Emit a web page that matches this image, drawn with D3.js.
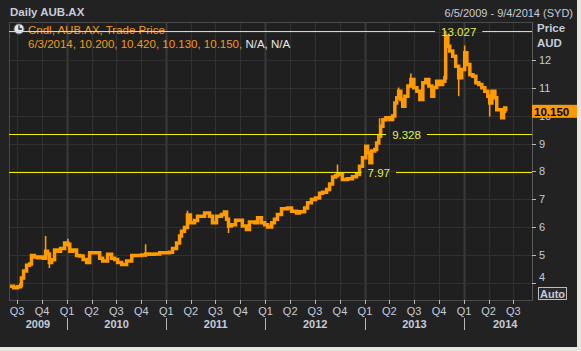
<!DOCTYPE html>
<html lang="en">
<head>
<meta charset="UTF-8">
<title>Daily AUB.AX</title>
<script src="https://d3js.org/d3.v7.min.js"></script>
<style>
  body { margin: 0; background: #e6e6de; }
  svg { display: block; font-family: "Liberation Sans", Arial, sans-serif; }
  .lbl { fill: #c4ccda; font-size: 11px; }
  .bold { font-weight: bold; }
</style>
</head>
<body>
<script>
// price series (approx. closes)
var dates = [
  "2009-06-05","2009-06-18","2009-07-03","2009-07-14","2009-07-17","2009-07-25","2009-08-05","2009-08-16","2009-08-23","2009-09-03",
  "2009-09-14","2009-09-25","2009-10-06","2009-10-14","2009-10-21","2009-10-28","2009-11-05","2009-11-16","2009-11-27","2009-12-08",
  "2009-12-23","2010-01-04","2010-01-11","2010-01-22","2010-02-05","2010-02-16","2010-03-01","2010-03-14","2010-03-25","2010-04-12",
  "2010-05-01","2010-05-12","2010-05-30","2010-06-14","2010-06-25","2010-07-06","2010-07-21","2010-08-08","2010-08-27","2010-09-14",
  "2010-10-02","2010-10-17","2010-11-01","2010-11-19","2010-12-08","2010-12-26","2011-01-13","2011-01-24","2011-02-08","2011-02-19",
  "2011-02-26","2011-03-09","2011-03-20","2011-03-31","2011-04-15","2011-04-26","2011-05-03","2011-05-22","2011-06-09","2011-06-20",
  "2011-07-05","2011-07-23","2011-08-03","2011-08-11","2011-08-18","2011-08-29","2011-09-13","2011-09-27","2011-10-08","2011-10-23",
  "2011-11-03","2011-11-22","2011-12-03","2011-12-17","2011-12-29","2012-01-09","2012-01-24","2012-02-03","2012-02-14","2012-02-29",
  "2012-03-11","2012-03-22","2012-04-06","2012-04-24","2012-05-05","2012-05-24","2012-06-04","2012-06-18","2012-07-03","2012-07-18",
  "2012-07-29","2012-08-13","2012-08-24","2012-09-04","2012-09-15","2012-09-22","2012-10-10","2012-10-29","2012-11-16","2012-12-01",
  "2012-12-12","2012-12-23","2013-01-04","2013-01-11","2013-01-19","2013-01-26","2013-02-06","2013-02-13","2013-02-21","2013-02-28",
  "2013-03-08","2013-03-19","2013-04-02","2013-04-13","2013-04-21","2013-04-28","2013-05-05","2013-05-13","2013-05-20","2013-05-28",
  "2013-06-08","2013-06-19","2013-06-30","2013-07-11","2013-07-22","2013-08-02","2013-08-13","2013-08-24","2013-09-04","2013-09-11",
  "2013-09-22","2013-10-03","2013-10-14","2013-10-22","2013-10-25","2013-11-02","2013-11-09","2013-11-20","2013-12-01","2013-12-12",
  "2013-12-23","2014-01-03","2014-01-11","2014-01-22","2014-02-02","2014-02-13","2014-02-24","2014-03-07","2014-03-18","2014-03-29",
  "2014-04-05","2014-04-13","2014-04-24","2014-05-01","2014-05-12","2014-05-19","2014-05-26","2014-05-30","2014-06-03"
];
var close = [
  3.90,3.85,3.88,3.95,4.20,4.45,4.65,4.70,5.00,4.95,
  4.92,4.95,4.90,5.15,5.05,4.75,4.85,5.20,5.15,5.25,
  5.45,5.40,5.15,5.20,5.00,4.98,4.86,4.75,5.10,5.10,
  4.90,4.80,5.04,4.90,4.86,4.75,4.68,4.80,5.00,5.00,
  5.02,5.05,5.04,5.05,5.10,5.10,5.12,5.25,5.45,5.70,
  5.87,6.00,6.45,6.17,6.25,6.40,6.40,6.52,6.40,6.17,
  6.40,6.46,6.55,6.29,6.05,6.10,6.26,6.26,6.05,5.93,
  6.20,6.17,6.35,6.17,6.10,6.02,6.17,6.29,6.46,6.67,
  6.67,6.70,6.58,6.52,6.56,6.70,6.88,7.00,7.05,7.22,
  7.26,7.36,7.55,7.80,7.85,7.89,7.71,7.74,7.81,7.89,
  8.19,8.49,8.90,8.67,8.31,8.73,8.79,9.02,9.26,9.62,
  9.85,9.92,9.86,9.98,10.45,10.63,10.87,10.57,10.33,10.69,
  11.05,11.29,10.99,10.87,10.57,11.17,11.29,11.05,10.69,11.00,
  11.22,11.11,11.22,11.35,12.83,12.47,12.30,12.12,11.76,11.35,
  11.64,12.24,11.82,11.46,11.40,11.17,11.11,10.99,10.87,10.69,
  10.45,10.87,10.63,10.21,10.21,9.92,10.15,10.27,10.15
];

// intraday spikes
var wickDates = ["2009-10-14","2009-10-28","2010-01-04","2010-10-17","2011-03-20","2011-08-18","2012-09-22","2013-02-24","2013-05-05","2013-06-19","2013-10-25","2013-12-12","2014-01-03","2014-04-05"];
var wickHigh  = [5.70, 4.90, 5.60, 5.40, 6.60, 6.10, 8.25, 9.90, 11.00, 11.50, 13.027, 11.60, 12.50, 10.60];
var wickLow   = [4.90, 4.55, 5.30, 4.95, 6.20, 5.80, 7.80, 9.26, 10.60, 11.00, 11.30, 10.69, 11.80, 9.96];

// horizontal level lines
var levelValues = [13.027, 9.328, 7.97];
var levelLabels = ["13.027", "9.328", "7.97"];
var levelLabelDates = ["2013-12-12", "2013-06-03", "2013-02-21"];

var yearLabels = ["2009", "2010", "2011", "2012", "2013", "2014"];
var yearLabelDates = ["2009-09-16", "2010-07-02", "2011-07-02", "2012-07-02", "2013-07-02", "2014-06-01"];

var lastPrice = 10.150;

var W = 577, H = 347;
var pL = 9, pR = 532, pT = 22, pB = 300;
var parse = d3.timeParse("%Y-%m-%d");

var svg = d3.select("body").append("svg").attr("width", W).attr("height", H);
svg.append("rect").attr("width", W).attr("height", H).attr("fill", "#222222");
svg.append("rect").attr("x", pL).attr("y", pT).attr("width", pR - pL).attr("height", pB - pT)
    .attr("fill", "#1f1f1f");

var x = d3.scaleTime()
    .domain([parse("2009-06-05"), parse("2014-09-04")])
    .range([10, 531]);
var y = d3.scaleLinear()
    .domain([3.41, 13.34])
    .range([pB, pT]);

// grid
var quarters = x.ticks(d3.timeMonth.every(3));
var years = x.ticks(d3.timeYear.every(1));
svg.append("g").selectAll("line").data(quarters).enter().append("line")
    .attr("x1", function(d) { return Math.round(x(d)) + 0.5; })
    .attr("x2", function(d) { return Math.round(x(d)) + 0.5; })
    .attr("y1", pT).attr("y2", pB)
    .attr("stroke", function(d) { return d.getMonth() === 0 ? "#3a3a3a" : "#313131"; })
    .attr("stroke-width", function(d) { return d.getMonth() === 0 ? 2 : 1; });
var yTicks = y.ticks(10);
svg.append("g").selectAll("line").data(yTicks).enter().append("line")
    .attr("x1", pL).attr("x2", pR)
    .attr("y1", function(d) { return Math.round(y(d)) + 0.5; })
    .attr("y2", function(d) { return Math.round(y(d)) + 0.5; })
    .attr("stroke", "#313131");

// frame
svg.append("path")
    .attr("d", "M" + (pL + 0.5) + "," + pB + "V" + (pT + 0.5) + "H" + (pR + 0.5) + "V" + (pB + 0.5) + "H" + pL)
    .attr("fill", "none").attr("stroke", "#4a4a4a");

// price
var pts = dates.map(function(d, i) { return [parse(d), close[i]]; });
svg.append("g").selectAll("line").data(wickDates).enter().append("line")
    .attr("x1", function(d) { return x(parse(d)); })
    .attr("x2", function(d) { return x(parse(d)); })
    .attr("y1", function(d, i) { return y(wickHigh[i]); })
    .attr("y2", function(d, i) { return y(wickLow[i]); })
    .attr("stroke", "#ff9a00").attr("stroke-width", 1.6);
svg.append("path")
    .datum(pts)
    .attr("fill", "none")
    .attr("stroke", "#ff9a00")
    .attr("stroke-width", 3.5)
    .attr("stroke-linejoin", "miter")
    .attr("d", d3.line()
        .x(function(d) { return x(d[0]); })
        .y(function(d) { return y(d[1]); })
        .curve(d3.curveStepAfter));

// level lines with labels
levelValues.forEach(function(v, i) {
    var cx = x(parse(levelLabelDates[i]));
    var yy = Math.round(y(v)) + 0.5;
    var t = svg.append("text").attr("x", cx).attr("y", yy + 4)
        .attr("text-anchor", "middle").attr("fill", "#e2f048")
        .style("font-size", "11.5px").text(levelLabels[i]);
    var w = t.node().getComputedTextLength() / 2 + 6;
    svg.append("line").attr("x1", pL).attr("x2", cx - w).attr("y1", yy).attr("y2", yy)
        .attr("stroke", "#f2f000").attr("stroke-width", 1.2);
    svg.append("line").attr("x1", cx + w).attr("x2", pR).attr("y1", yy).attr("y2", yy)
        .attr("stroke", "#f2f000").attr("stroke-width", 1.2);
});

// right axis
var yAxis = svg.append("g");
var yLab = yTicks.filter(function(d) { return d <= 12; });
yAxis.append("line").attr("x1", pR + 0.5).attr("x2", pR + 0.5).attr("y1", pT).attr("y2", pB)
    .attr("stroke", "#5a5a5a");
yAxis.selectAll(".tk").data(yLab).enter().append("line")
    .attr("x1", pR).attr("x2", pR + 4)
    .attr("y1", function(d) { return Math.round(y(d)) + 0.5; })
    .attr("y2", function(d) { return Math.round(y(d)) + 0.5; })
    .attr("stroke", "#b8b8b8");
// lowest label is pushed up to clear the Auto button
yAxis.selectAll("text").data(yLab).enter().append("text")
    .attr("class", "lbl").attr("x", 539)
    .attr("y", function(d, i) { return y(d) + (i === 0 ? -2 : 4); })
    .text(function(d) { return d; });
svg.append("text").attr("class", "lbl bold").attr("x", 537).attr("y", 32).style("font-size", "11.5px").text("Price");
svg.append("text").attr("class", "lbl bold").attr("x", 537).attr("y", 47).style("font-size", "11.5px").text("AUD");

// last price tag
var ly = y(lastPrice);
svg.append("rect").attr("x", 532).attr("y", ly - 6.5).attr("width", 45).attr("height", 13).attr("fill", "#ff9900");
svg.append("text").attr("x", 534).attr("y", ly + 4.5).attr("fill", "#000")
    .style("font-size", "11.5px").style("font-weight", "bold").text(d3.format(".3f")(lastPrice));

// Auto button
svg.append("rect").attr("x", 538.5).attr("y", 287.5).attr("width", 28).attr("height", 12)
    .attr("fill", "#2a2a2a").attr("stroke", "#bdbdbd");
svg.append("text").attr("class", "lbl bold").attr("x", 552.5).attr("y", 297.5)
    .attr("text-anchor", "middle").attr("fill", "#d8dce4").text("Auto");

// bottom axis
var xAxis = svg.append("g");
xAxis.selectAll("line").data(quarters).enter().append("line")
    .attr("x1", function(d) { return Math.round(x(d)) + 0.5; })
    .attr("x2", function(d) { return Math.round(x(d)) + 0.5; })
    .attr("y1", pB).attr("y2", pB + 4)
    .attr("stroke", "#b8b8b8");
xAxis.selectAll("text").data(quarters).enter().append("text")
    .attr("class", "lbl").attr("x", function(d) { return x(d); }).attr("y", 315)
    .attr("text-anchor", "middle")
    .text(function(d) { return "Q" + (Math.floor(d.getMonth() / 3) + 1); });
svg.append("g").selectAll("line").data(years).enter().append("line")
    .attr("x1", function(d) { return Math.round(x(d)) + 0.5; })
    .attr("x2", function(d) { return Math.round(x(d)) + 0.5; })
    .attr("y1", 318).attr("y2", 330)
    .attr("stroke", "#b8b8b8");
svg.append("g").selectAll("text").data(yearLabels).enter().append("text")
    .attr("class", "lbl bold").attr("x", function(d, i) { return x(parse(yearLabelDates[i])); }).attr("y", 328)
    .attr("text-anchor", "middle").text(function(d) { return d; });

// header
svg.append("text").attr("class", "lbl bold").attr("x", 10).attr("y", 16).attr("fill", "#d4d8de")
    .style("font-size", "11.5px").text("Daily AUB.AX");
svg.append("text").attr("class", "lbl").attr("x", 573).attr("y", 17).attr("text-anchor", "end")
    .text("6/5/2009 - 9/4/2014 (SYD)");

// legend
var clock = svg.append("g").attr("transform", "translate(19,29)");
clock.append("circle").attr("r", 5).attr("fill", "#e4e8f0").attr("stroke", "#6a7080");
clock.append("path").attr("d", "M0,-3.5V0H3").attr("fill", "none").attr("stroke", "#222").attr("stroke-width", 1.3);
svg.append("text").attr("x", 28).attr("y", 34).attr("fill", "#f39a1a").style("font-size", "11.5px")
    .text("Cndl, AUB.AX, Trade Price");
var leg2 = svg.append("text").attr("x", 28).attr("y", 48).style("font-size", "11.5px");
leg2.append("tspan").attr("fill", "#f39a1a").text("6/3/2014, 10.200, 10.420, 10.130, 10.150, ");
leg2.append("tspan").attr("fill", "#e8e8e8").text("N/A, N/A");
// level line crosses the legend
svg.append("line").attr("x1", pL).attr("x2", 160).attr("y1", Math.round(y(13.027)) + 0.5).attr("y2", Math.round(y(13.027)) + 0.5)
    .attr("stroke", "#f2f000").attr("stroke-width", 1.2);
</script>
</body>
</html>
